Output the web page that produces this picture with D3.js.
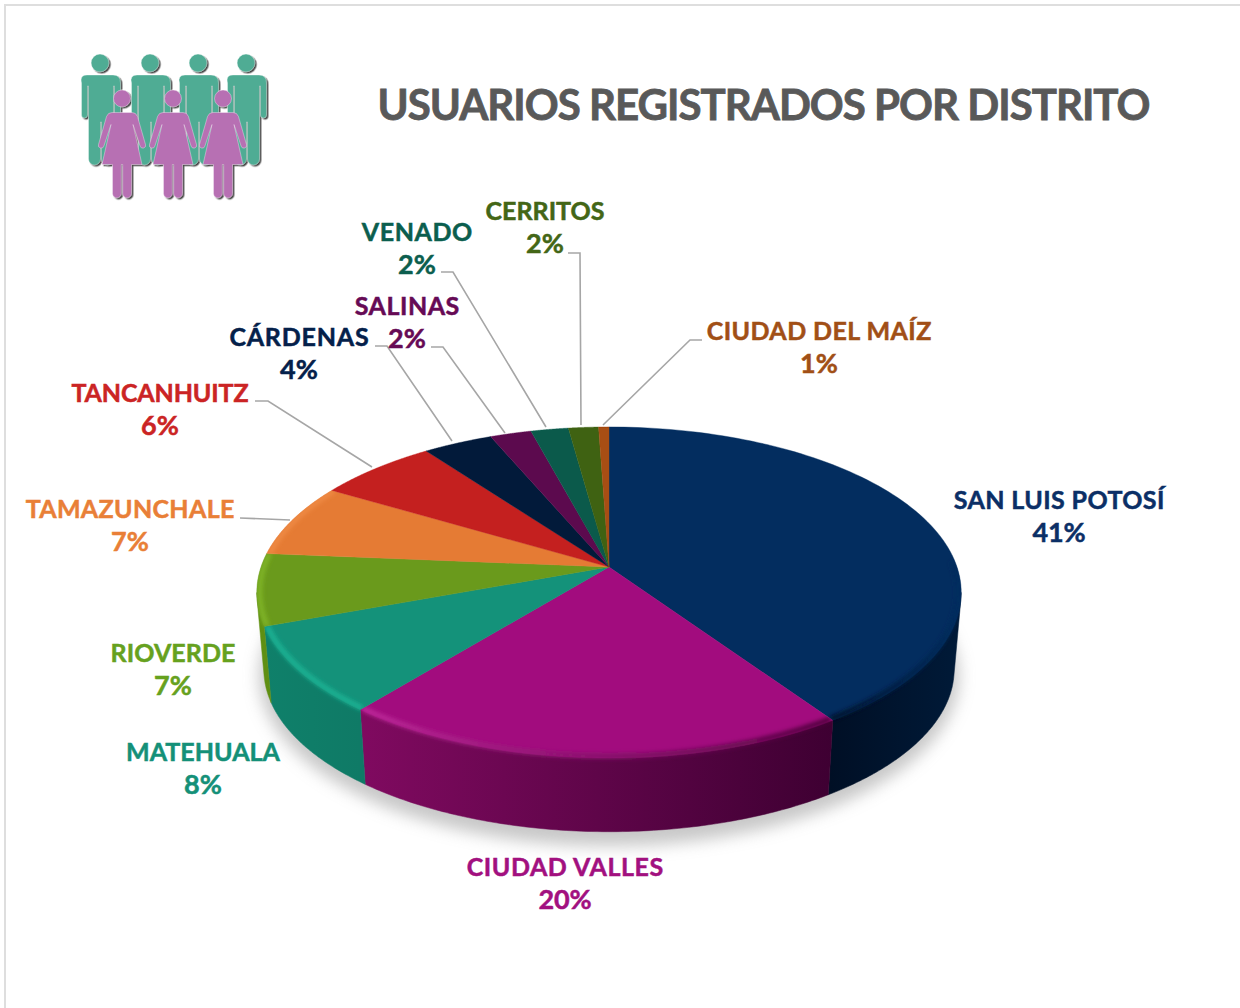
<!DOCTYPE html>
<html><head><meta charset="utf-8">
<script src="https://cdn.jsdelivr.net/npm/d3@7/dist/d3.min.js"></script>
<style>html,body{margin:0;background:#fff}svg{display:block}text{font-family:Lato,"Open Sans",sans-serif;font-weight:700}</style>
</head><body><svg id="c" width="1240" height="1008"></svg>
<script>
const categories=["SAN LUIS POTOSÍ","CIUDAD VALLES","MATEHUALA","RIOVERDE","TAMAZUNCHALE","TANCANHUITZ","CÁRDENAS","SALINAS","VENADO","CERRITOS","CIUDAD DEL MAÍZ"];
const shares=[40.5,20.3,8.5,7.0,7.2,6.4,3.7,2.2,2.0,1.6,0.55];
const percentLabels=["41%","20%","8%","7%","7%","6%","4%","2%","2%","2%","1%"];
const title="USUARIOS REGISTRADOS POR DISTRITO";
const faceColors=["#032d5f","#a20c7e","#14927a","#6a9a1c","#e57b34","#c4201f","#021a3a","#5c0a4e","#0b5a4b","#3f6212","#a84e14"];
const textColors=["#0b2f66","#a2107f","#149078","#66a11e","#e97f37","#cb2424","#04204a","#660a55","#0b5e4e","#436616","#a14f16"];
const wallColors=[["#001a38","#000f25"],["#800a60","#3e0032"],["#0f806a","#0f7a66"],["#5f8f12","#5f8f12"],null,null,null,null,null,null,null];
const bevelColors=[["#032d5f","#000f25"],["#c02a9c","#4a0038"],["#1ab394","#1ab394"],["#80b525","#80b525"],["#ef8a45","#ef8a45"],null,null,null,null,null,null];
const labelBox=[[1059,499,211],[565,866,197],[203,751,154],[173,652,125],[130,508,209],[160,392,177],[299,336,140],[407,305,105],[417,231,111],[545,210,119],[819,330,225]];
const pctWidth=[53,53,38,38,38,38,38,38,38,38,38];
const leaders=[null,null,null,null,[[240,518],[290,520]],[[255,401],[268,401],[372,467]],[[375,346],[387,346],[452,441]],[[431,347],[443,347],[505,433]],[[441,272],[453,272],[546,427]],[[568,253],[580,253],[581,425]],[[603,425],[690,340],[702,340]]];
const menHeads=[100,150,198,246], womenHeads=[122,173,223];

const svg=d3.select("#c"), defs=svg.append("defs");
const blur=(id,s)=>defs.append("filter").attr("id",id).attr("filterUnits","userSpaceOnUse").attr("x",0).attr("y",0).attr("width",1240).attr("height",1008).append("feGaussianBlur").attr("stdDeviation",s);
blur("b8",8);blur("b2",2.2);
const ds=defs.append("filter").attr("id","ds").attr("x","-20%").attr("y","-20%").attr("width","150%").attr("height","150%");
ds.append("feDropShadow").attr("dx",1.6).attr("dy",1.4).attr("stdDeviation",.5).attr("flood-color","#333").attr("flood-opacity",.9);

// text fitted to a width through letter spacing
function fit(sel,w){const n=sel.text().length,len=sel.node().getComputedTextLength();
 sel.attr("letter-spacing",((w-len)/n).toFixed(3));sel.attr("dx",((w-len)/n/2).toFixed(3));}

// frame
svg.append("path").attr("d","M5,1008V5H1240").attr("fill","none").attr("stroke","#dedede").attr("stroke-width",2);

// title
svg.append("text").attr("x",764).attr("y",120).attr("text-anchor","middle").attr("font-size",42).attr("fill","#595959")
 .attr("stroke","#595959").attr("stroke-width",.8).text(title).call(fit,772);

// icon
const manD="M-13,12H13Q20.5,12 20.5,20V52a3,3 0 0 1 -6,0V23h-1V96a6,6 0 0 1 -12,0V59h-1V96a6,6 0 0 1 -12,0V23h-1V52a3,3 0 0 1 -6,0V20Q-20.5,12 -13,12Z";
const womanD="M-10,14H10Q14,14 15.5,18L23.5,46a2.8,2.8 0 0 1 -5.4,1.6L11,26 20,66H9.5V95a4.4,4.4 0 0 1 -8.8,0V66H-0.7V95a4.4,4.4 0 0 1 -8.8,0V66H-20L-11,26 -18.1,47.6a2.8,2.8 0 0 1 -5.4,-1.6L-15.5,18Q-14,14 -10,14Z";
const icon=svg.append("g").attr("filter","url(#ds)");
const person=(g,x,y,r,d,c)=>{const p=g.append("g").attr("transform",`translate(${x},${y})`).attr("fill",c).attr("stroke","#fff").attr("stroke-width",.35);
 p.append("circle").attr("r",r);p.append("path").attr("d",d);};
menHeads.forEach(x=>person(icon,x,63,8.9,manD,"#4fac94"));
womenHeads.forEach(x=>person(icon,x,98.5,8.5,womanD,"#b770b3"));

// pie geometry: d3.pie gives the angles, a perspective projection places them
const pie=d3.pie().sort(null).value(d=>d)(shares);
const cx=609, apexY=567, k=.154, A=161.6, B=348, depthScale=.98, rimMidY=593, bottomMidY=670;
function proj(a,r=1,level=0){
  const X=r*Math.sin(a),Y=r*Math.cos(a),w=1+k*Y;
  const x=B*X/w,y=apexY-A*Y/w;
  return level? [cx+depthScale*x,bottomMidY+depthScale*(y-rimMidY)]:[cx+x,y];
}
const samples=(a0,a1,r,lvl)=>d3.range(0,1.0001,.01).map(t=>proj(a0+(a1-a0)*t,r,lvl));
const line=d3.line();
const rightmost=Math.acos(-k), leftmost=2*Math.PI-rightmost;

// shadow
svg.append("ellipse").attr("cx",cx).attr("cy",676).attr("rx",350).attr("ry",170).attr("fill","#b5b5b5").attr("opacity",.75).attr("filter","url(#b8)");

const grad=(id,cols,x0,x1)=>{const g=defs.append("linearGradient").attr("id",id).attr("gradientUnits","userSpaceOnUse").attr("x1",x0).attr("x2",x1).attr("y1",0).attr("y2",0);
 g.append("stop").attr("offset",0).attr("stop-color",cols[0]);g.append("stop").attr("offset",1).attr("stop-color",cols[1]);};
const xr=(d)=>d3.extent(samples(d.startAngle,d.endAngle,1,0),p=>p[0]);

// walls: the hull closes the outline where the wall meets the rim's widest point
function wallD(d){
  const a0=Math.max(d.startAngle,rightmost),a1=Math.min(d.endAngle,leftmost);
  const pts=samples(a0,a1,1,0).concat(samples(a0,a1,1,1));
  return line(d3.polygonHull(pts))+"Z";
}
svg.append("g").selectAll("path").data(pie.filter((d,i)=>wallColors[i])).join("path")
 .each(function(d){const [l,r]=xr(d);
   const xs=d.index===0?[830,961]:[l,r];
   const cols=d.index===0?[wallColors[0][1],wallColors[0][0]]:wallColors[d.index];
   grad("w"+d.index,cols,xs[0],xs[1]);})
 .attr("d",wallD)
 .attr("fill",d=>`url(#w${d.index})`).attr("stroke",d=>`url(#w${d.index})`).attr("stroke-width",.5);

// top faces
const faceD=d=>line([proj(0,0)].concat(samples(d.startAngle,d.endAngle,1,0)))+"Z";
svg.append("g").selectAll("path").data(pie).join("path").attr("d",faceD)
 .attr("fill",(d,i)=>faceColors[i]).attr("stroke",(d,i)=>faceColors[i]).attr("stroke-width",.4);

// rim bevel: soft band that straddles the rim, clipped to its own slice
const bevel=svg.append("g");
pie.forEach((d,i)=>{ if(!bevelColors[i])return;
  const cp=defs.append("clipPath").attr("id","f"+i);
  cp.append("path").attr("d",faceD(d));
  if(wallColors[i]) cp.append("path").attr("d",wallD(d));
  const a0=i===0?Math.PI/2*.98:d.startAngle;
  const [l,r]=d3.extent(samples(a0,d.endAngle,1,0),p=>p[0]);
  const cols=i===0?[bevelColors[0][1],bevelColors[0][0]]:bevelColors[i];
  const xs=i===0?[830,961]:[l,r];
  grad("v"+i,cols,xs[0],xs[1]);
  bevel.append("g").attr("clip-path",`url(#f${i})`).append("path")
   .attr("d",line(samples(a0,d.endAngle,.992,0))).attr("fill","none")
   .attr("stroke",`url(#v${i})`).attr("stroke-width",5).attr("filter","url(#b2)");
});

// leaders
svg.append("g").selectAll("path").data(leaders.filter(Boolean)).join("path")
 .attr("d",line).attr("fill","none").attr("stroke","#a6a6a6").attr("stroke-width",1.6);

// labels
const lab=svg.append("g").attr("text-anchor","middle").attr("font-size",25);
categories.forEach((c,i)=>{const b=labelBox[i];
 lab.append("text").attr("x",b[0]).attr("y",b[1]+9.5).attr("fill",textColors[i]).attr("stroke",textColors[i]).attr("stroke-width",.5).text(c).call(fit,b[2]);
 lab.append("text").attr("x",b[0]).attr("y",b[1]+43).attr("font-size",27).attr("fill",textColors[i]).attr("stroke",textColors[i]).attr("stroke-width",.5).text(percentLabels[i]).call(fit,pctWidth[i]);
});
</script></body></html>
